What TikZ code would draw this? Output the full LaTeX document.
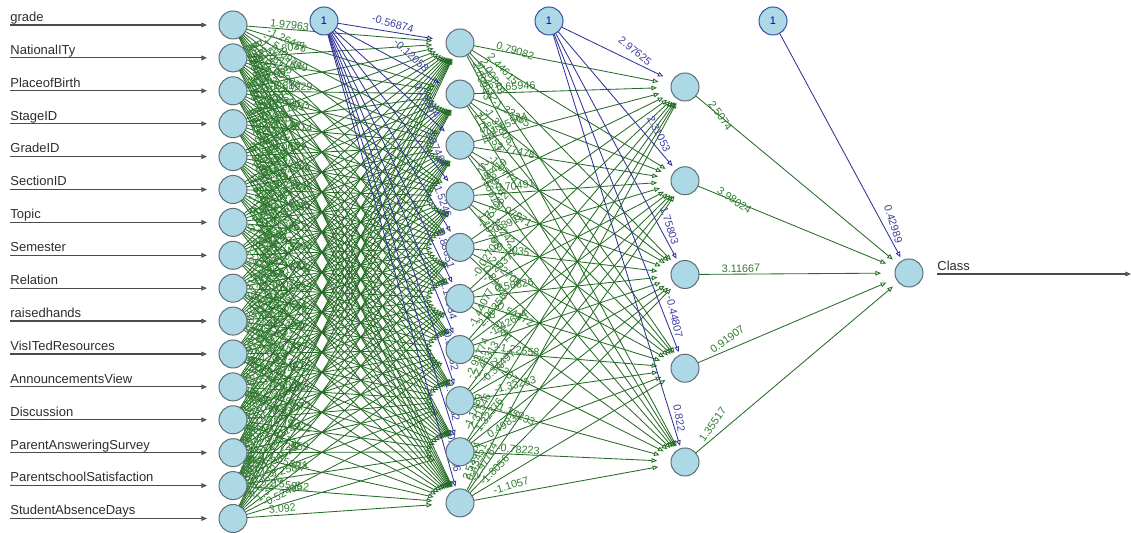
\documentclass[tikz,border=0pt]{standalone}
\usepackage{fontspec}
\setmainfont{Liberation Sans}
\usetikzlibrary{arrows.meta,backgrounds}

\pgfdeclarelayer{paper}
\pgfsetlayers{paper,background,main}

\definecolor{nodefill}{RGB}{173,216,230}
\definecolor{nodeline}{RGB}{95,110,115}
\definecolor{biasrim}{RGB}{60,80,160}
\definecolor{synapse}{RGB}{38,108,38}
\definecolor{synlabel}{RGB}{50,125,50}
\definecolor{biasline}{RGB}{50,50,150}
\definecolor{biaslabel}{RGB}{65,65,165}
\definecolor{inputtext}{RGB}{45,45,45}
\definecolor{inputline}{RGB}{75,75,75}

\tikzset{
  neuron/.style={circle, fill=nodefill, draw=nodeline, line width=0.5pt,
    minimum size=14pt, inner sep=0pt},
  biasnode/.style={neuron, draw=biasrim, text=blue!75!black,
    font=\fontsize{5.5}{5.5}\selectfont},
  tipstyle/.style={-{Triangle[open,length=2.8pt,width=2.3pt]}},
  syn/.style={draw=synapse, line width=0.42pt, tipstyle},
  bsyn/.style={draw=biasline, line width=0.42pt, tipstyle},
  wlab/.style={text=synlabel, font=\fontsize{5.4}{5.4}\selectfont, inner sep=0.7pt},
  blab/.style={wlab, text=biaslabel},
  feed/.style={draw=inputline, line width=0.6pt, tipstyle},
  feedlab/.style={text=inputtext, font=\fontsize{6.5}{6.5}\selectfont,
    inner sep=0pt, anchor=base west, yshift=1.8pt},
}

% slope factor used for label angles and tip offsets
\newcommand\kfac{1.7}
\newcommand\edgegeom[4]{%
  \pgfmathsetmacro\edx{(#3-#1)/100}%
  \pgfmathsetmacro\edy{(#4-#2)/100}%
  \pgfmathsetmacro\esy{\edy*\kfac}%
  \pgfmathsetmacro\elen{veclen(\edx,\edy)}%
  \pgfmathsetmacro\eslen{veclen(\edx,\esy)}%
  \pgfmathsetmacro\efac{\elen/\eslen}%
  \pgfmathsetmacro\eang{-atan2(\esy,\edx)}%
  \pgfmathsetmacro\esh{14*\efac}%
}
% weighted synapse, label next to the source neuron
\newcommand\synedge[7]{%
  \edgegeom{#3}{#4}{#5}{#6}%
  \pgfmathsetmacro\epos{0.35/\eslen}%
  \draw[syn, shorten >=\esh pt] (#1.center) -- (#2.center)
    node[pos=\epos, wlab, anchor=south west, rotate=\eang] {#7};%
}
% intercept synapse, label next to the target neuron
\newcommand\biasedge[7]{%
  \edgegeom{#3}{#4}{#5}{#6}%
  \pgfmathsetmacro\epos{1-0.48/\eslen}%
  \draw[bsyn, shorten >=\esh pt] (#1.center) -- (#2.center)
    node[pos=\epos, blab, anchor=south east, rotate=\eang] {#7};%
}

\newcommand\setw[2]{\expandafter\def\csname #1\endcsname{#2}}
\setw{wa-0-0}{1.97963}
\setw{wa-0-1}{-1.26426}
\setw{wa-15-9}{3.092}
\setw{wb-0-0}{0.79082}
\setw{wb-0-1}{2.44615}
\setw{wb-1-0}{0.65946}
\setw{wb-2-1}{2.77478}
\setw{wb-3-1}{0.70491}
\setw{wb-4-2}{0.3035}
\setw{wb-5-2}{0.56826}
\setw{wb-6-3}{-1.22558}
\setw{wb-7-3}{-1.33253}
\setw{wb-8-4}{-0.78223}
\setw{wb-9-4}{-1.1057}

\begin{document}
\begin{tikzpicture}[x=0.5pt,y=-0.5pt]
\pgfmathsetseed{2718}
\useasboundingbox (0,0) rectangle (1131,533);
\begin{pgfonlayer}{paper}
  \fill[white] (0,0) rectangle (1131,533);
\end{pgfonlayer}

% input layer with its feeding arrows and names
\foreach \nm [count=\i from 0] in {grade,NationalITy,PlaceofBirth,StageID,GradeID,
  SectionID,Topic,Semester,Relation,raisedhands,VisITedResources,AnnouncementsView,
  Discussion,ParentAnsweringSurvey,ParentschoolSatisfaction,StudentAbsenceDays} {
  \pgfmathsetmacro\ya{25+\i*32.9}
  \node[neuron] (in-\i) at (233,\ya) {};
  \coordinate (st-\i) at (10,\ya);
  \draw[feed, shorten >=13pt] (st-\i) -- (in-\i.center);
  \node[feedlab] (lab-\i) at (st-\i) {\nm};
}

% hidden layers, intercepts and output
\foreach \j in {0,...,9} {
  \pgfmathsetmacro\yb{43+\j*51.1}
  \node[neuron] (ha-\j) at (460,\yb) {};
}
\foreach \k in {0,...,4} {
  \pgfmathsetmacro\yc{87+\k*93.75}
  \node[neuron] (hb-\k) at (685,\yc) {};
}
\node[biasnode] (ba) at (324,21) {1};
\node[biasnode] (bb) at (549,21) {1};
\node[biasnode] (bc) at (773,21) {1};
\node[neuron] (out) at (909,273) {};

% output arrow
\coordinate (cs) at (937,274);
\coordinate (ce) at (1131,274);
\draw[feed] (cs) -- (ce);
\node[feedlab] (classlab) at (cs) {Class};

\begin{pgfonlayer}{background}
  % input -> first hidden layer
  \foreach \i in {0,...,15} {
    \foreach \j in {0,...,9} {
      \pgfmathsetmacro\ya{25+\i*32.9}
      \pgfmathsetmacro\yb{43+\j*51.1}
      \ifcsname wa-\i-\j\endcsname
        \edef\wtxt{\csname wa-\i-\j\endcsname}%
      \else
        \pgfmathsetmacro\wtxt{rnd*7-3.5}%
      \fi
      \synedge{in-\i}{ha-\j}{233}{\ya}{460}{\yb}{\wtxt}
    }
  }
  % first -> second hidden layer
  \foreach \j in {0,...,9} {
    \foreach \k in {0,...,4} {
      \pgfmathsetmacro\yb{43+\j*51.1}
      \pgfmathsetmacro\yc{87+\k*93.75}
      \ifcsname wb-\j-\k\endcsname
        \edef\wtxt{\csname wb-\j-\k\endcsname}%
      \else
        \pgfmathsetmacro\wtxt{rnd*6-3}%
      \fi
      \synedge{ha-\j}{hb-\k}{460}{\yb}{685}{\yc}{\wtxt}
    }
  }
  % second hidden layer -> output
  \foreach \w [count=\k from 0] in {2.5074,3.98024,3.11667,0.91907,1.35517} {
    \pgfmathsetmacro\yc{87+\k*93.75}
    \synedge{hb-\k}{out}{685}{\yc}{909}{273}{\w}
  }
  % intercepts
  \foreach \w [count=\j from 0] in {-0.56874,-0.12058,0.79364,2.87464,1.5246,
      0.88651,-1.18934,-0.01362,1.42652,-0.07646} {
    \pgfmathsetmacro\yb{43+\j*51.1}
    \biasedge{ba}{ha-\j}{324}{21}{460}{\yb}{\w}
  }
  \foreach \w [count=\k from 0] in {2.97625,2.31053,1.75803,-0.44807,0.822} {
    \pgfmathsetmacro\yc{87+\k*93.75}
    \biasedge{bb}{hb-\k}{549}{21}{685}{\yc}{\w}
  }
  \biasedge{bc}{out}{773}{21}{909}{273}{0.42989}
\end{pgfonlayer}
\end{tikzpicture}
\end{document}
